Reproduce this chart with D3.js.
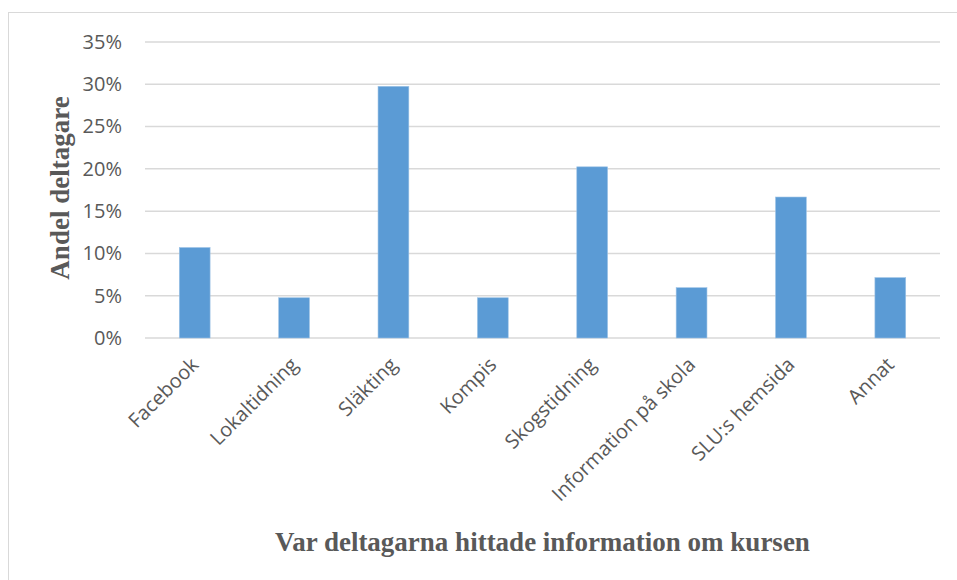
<!DOCTYPE html>
<html>
<head>
<meta charset="utf-8">
<script src="https://cdn.jsdelivr.net/npm/d3@7"></script>
<style>
  body { margin: 0; background: #fff; }
  .tick text { fill: #595959; font-family: "Open Sans", sans-serif; }
  .axis-title { fill: #595959; font-family: "Liberation Serif", "Times New Roman", serif; font-weight: bold; }
</style>
</head>
<body>
<div id="chart"></div>
<script>
// Data: share of participants (%) per information source
var categories = ["Facebook", "Lokaltidning", "Släkting", "Kompis", "Skogstidning", "Information på skola", "SLU:s hemsida", "Annat"];
var values = [10.7, 4.76, 29.76, 4.76, 20.24, 5.95, 16.67, 7.14];
var yTicks = [0, 5, 10, 15, 20, 25, 30, 35];

var W = 957, H = 580;
var margin = { top: 42, right: 17, bottom: 242, left: 145 };
var width = W - margin.left - margin.right,
    height = H - margin.top - margin.bottom;

var svg = d3.select("#chart").append("svg")
  .attr("width", W)
  .attr("height", H);

// outer chart border
svg.append("rect")
  .attr("x", 8.5).attr("y", 12.5)
  .attr("width", W + 10).attr("height", H)
  .attr("fill", "none")
  .attr("stroke", "#d9d9d9")
  .attr("stroke-width", 1);

var g = svg.append("g")
  .attr("transform", "translate(" + margin.left + "," + margin.top + ")");

var x = d3.scaleBand().domain(categories).range([0, width]).paddingInner(0.69).paddingOuter(0.345);
var y = d3.scaleLinear().domain([0, 35]).range([height, 0]);

// gridlines
g.selectAll(".grid")
  .data(yTicks)
  .enter().append("line")
  .attr("x1", 0).attr("x2", width)
  .attr("y1", function(d) { return y(d); })
  .attr("y2", function(d) { return y(d); })
  .attr("stroke", "#d9d9d9")
  .attr("stroke-width", 1.5);

// y axis labels
var yAxis = g.append("g")
  .call(d3.axisLeft(y).tickValues(yTicks).tickSize(0).tickPadding(23).tickFormat(function(d) { return d + "%"; }));
yAxis.select(".domain").remove();
yAxis.selectAll("text").style("font-size", "20px");

// bars
g.selectAll(".bar")
  .data(values)
  .enter().append("rect")
  .attr("x", function(d, i) { return x(categories[i]); })
  .attr("y", function(d) { return y(d); })
  .attr("width", x.bandwidth())
  .attr("height", function(d) { return height - y(d); })
  .attr("fill", "#5b9bd5")
  .attr("stroke", "#9dc3e6")
  .attr("stroke-width", 0.6);

// x axis labels
var xAxis = g.append("g")
  .attr("transform", "translate(0," + height + ")")
  .call(d3.axisBottom(x).tickSize(0).tickPadding(0));
xAxis.select(".domain").remove();
xAxis.selectAll("text")
  .style("font-size", "20px")
  .attr("text-anchor", "end")
  .attr("dy", "0")
  .attr("transform", "translate(5,28) rotate(-45)");

// axis titles
svg.append("text")
  .attr("class", "axis-title")
  .attr("transform", "translate(69," + (margin.top + height / 2 - 2) + ") rotate(-90)")
  .attr("text-anchor", "middle")
  .style("font-size", "27px")
  .text("Andel deltagare");

svg.append("text")
  .attr("class", "axis-title")
  .attr("x", margin.left + width / 2)
  .attr("y", 551)
  .attr("text-anchor", "middle")
  .style("font-size", "27px")
  .text("Var deltagarna hittade information om kursen");
</script>
</body>
</html>
